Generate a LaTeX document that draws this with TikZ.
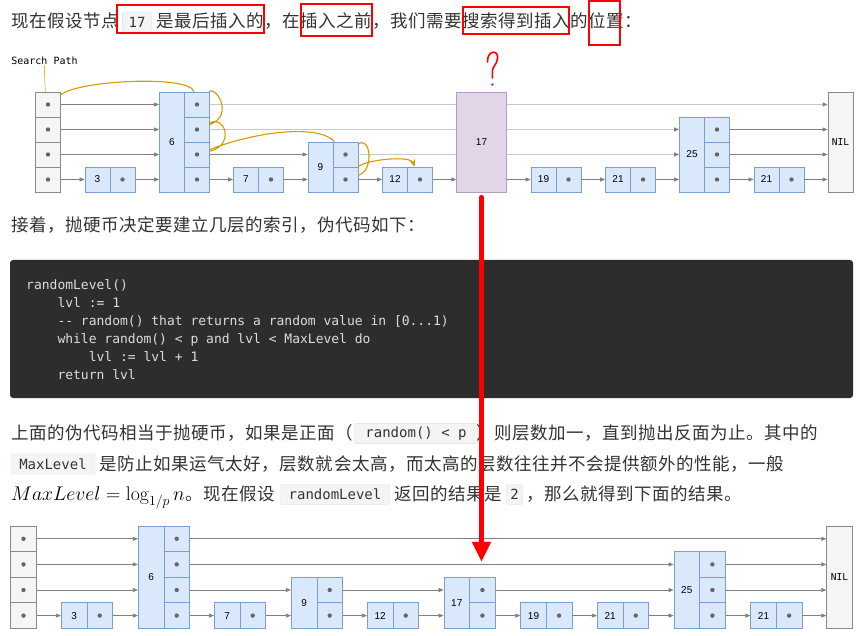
\RequirePackage{fix-cm}
\documentclass[tikz,border=0pt]{standalone}
\usepackage{fontspec}
\setsansfont{Liberation Sans}
\setmonofont{DejaVu Sans Mono}
\newfontfamily\cjk[LetterSpace=3]{Noto Sans CJK SC}
\usetikzlibrary{arrows.meta}
\definecolor{txtgray}{HTML}{333333}
\definecolor{cellblue}{HTML}{DAE8FC}
\definecolor{edgeblue}{HTML}{7C9DD0}
\definecolor{headfill}{HTML}{F5F5F5}
\definecolor{headedge}{HTML}{8A8A8A}
\definecolor{cellpurple}{HTML}{E1D5E7}
\definecolor{edgepurple}{HTML}{B59CC4}
\definecolor{linkgray}{HTML}{808080}
\definecolor{passgray}{HTML}{C8C8C8}
\definecolor{dotgray}{HTML}{666666}
\definecolor{pathorange}{HTML}{D79B00}
\definecolor{codebg}{HTML}{2D2D2D}
\definecolor{codefg}{HTML}{DCDCDC}
\definecolor{inlinebg}{HTML}{F3F4F4}
\definecolor{inlineedge}{HTML}{DDDFE2}
\definecolor{markred}{HTML}{FF0000}

\begin{document}
\begin{tikzpicture}[x=1pt,y=-1pt,
  every node/.style={inner sep=0pt},
  cn/.style={font=\cjk\fontsize{17.5}{20}\selectfont,text=txtgray,anchor=base west},
  codeline/.style={font=\ttfamily\fontsize{13}{15}\selectfont,text=codefg,anchor=base west},
  inline/.style={draw=inlineedge,fill=inlinebg,rounded corners=2pt,minimum height=20pt,
    font=\ttfamily\fontsize{14}{16}\selectfont,text=txtgray},
  cell/.style={draw=edgeblue,fill=cellblue,line width=0.8pt,minimum width=25pt,minimum height=25pt,
    font=\sffamily\fontsize{10}{12}\selectfont},
  bcell/.style={cell,minimum width=25.6pt,minimum height=25.6pt},
  head/.style={cell,draw=headedge,fill=headfill},
  bhead/.style={bcell,draw=headedge,fill=headfill},
  nilbox/.style={font=\ttfamily\fontsize{9.5}{11}\selectfont},
  link/.style={draw=linkgray,line width=0.75pt,-{Triangle[length=5pt,width=4pt]}},
  passlink/.style={draw=passgray,line width=1.6pt,-{Triangle[length=5pt,width=4pt,color=linkgray]}},
  searchpath/.style={draw=pathorange,line width=1.1pt},
  redbox/.style={draw=markred,line width=2pt}]
\fill[white] (0,0) rectangle (867,636);
\useasboundingbox (0,0) rectangle (867,636);

% first line of text
\node[cn] (l1a) at (11,28) {现在假设节点};
\node[inline,minimum width=29.4pt] (c17) at (137,22) {17};
\node[cn] (l1b) at (156,28) {是最后插入的，在插入之前，我们需要搜索得到插入的位置：};
\draw[redbox] (117.3,5) rectangle (264.3,33.3);
\draw[redbox] (300.7,4.3) rectangle (371.7,36);
\draw[redbox] (462.7,7.3) rectangle (569,34);
\draw[redbox] (588.7,0.7) rectangle (620,45);

% upper skip list
\node[head] (th1) at (48,104.5) {};
\node[head] (th2) at (48,129.5) {};
\node[head] (th3) at (48,154.5) {};
\node[head] (th4) at (48,179.5) {};
\node[cell] (t3) at (97.5,179.5) {3};
\node[cell] (t3p) at (122.5,179.5) {};
\node[cell,minimum height=100pt] (t6) at (172,142) {6};
\node[cell] (t6a) at (197,104.5) {};
\node[cell] (t6b) at (197,129.5) {};
\node[cell] (t6c) at (197,154.5) {};
\node[cell] (t6d) at (197,179.5) {};
\node[cell] (t7) at (246,179.5) {7};
\node[cell] (t7p) at (271,179.5) {};
\node[cell,minimum height=50pt] (t9) at (320.5,167) {9};
\node[cell] (t9c) at (345.5,154.5) {};
\node[cell] (t9d) at (345.5,179.5) {};
\node[cell] (t12) at (395,179.5) {12};
\node[cell] (t12p) at (420,179.5) {};
\node[cell] (t19) at (543.5,179.5) {19};
\node[cell] (t19p) at (568.5,179.5) {};
\node[cell] (t21) at (618,179.5) {21};
\node[cell] (t21p) at (643,179.5) {};
\node[cell,minimum height=75pt] (t25) at (692,154.5) {25};
\node[cell] (t25b) at (717,129.5) {};
\node[cell] (t25c) at (717,154.5) {};
\node[cell] (t25d) at (717,179.5) {};
\node[cell] (t21x) at (766.5,179.5) {21};
\node[cell] (t21xp) at (791.5,179.5) {};
\node[head,nilbox,minimum height=100pt] (tnil) at (840.5,142) {NIL};
\draw[passlink] (t6a) -- (t6a -| tnil.west);
\draw[passlink] (t6b) -- (t6b -| t25.west);
\draw[passlink] (t9c) -- (t9c -| t25.west);
\node[cell,draw=edgepurple,fill=cellpurple,minimum width=49.5pt,minimum height=100pt] (t17) at (481.5,142) {17};
\draw[link] (th1) -- (th1 -| t6.west);
\draw[link] (th2) -- (th2 -| t6.west);
\draw[link] (th3) -- (th3 -| t6.west);
\draw[link] (th4) -- (t3.west);
\draw[link] (t3p) -- (t6d -| t6.west);
\draw[link] (t6c) -- (t6c -| t9.west);
\draw[link] (t6d) -- (t7.west);
\draw[link] (t7p) -- (t7p -| t9.west);
\draw[link] (t9d) -- (t12.west);
\draw[link] (t12p) -- (t12p -| t17.west);
\draw[link] (t17.east |- t19) -- (t19.west);
\draw[link] (t19p) -- (t21.west);
\draw[link] (t21p) -- (t21p -| t25.west);
\draw[link] (t25b) -- (t25b -| tnil.west);
\draw[link] (t25c) -- (t25c -| tnil.west);
\draw[link] (t25d) -- (t21x.west);
\draw[link] (t21xp) -- (t21xp -| tnil.west);
\fill[dotgray] (th1) circle (2.2) (th2) circle (2.2) (th3) circle (2.2) (th4) circle (2.2)
  (t3p) circle (2.2) (t6a) circle (2.2) (t6b) circle (2.2) (t6c) circle (2.2) (t6d) circle (2.2)
  (t7p) circle (2.2) (t9c) circle (2.2) (t9d) circle (2.2) (t12p) circle (2.2) (t19p) circle (2.2)
  (t21p) circle (2.2) (t25b) circle (2.2) (t25c) circle (2.2) (t25d) circle (2.2) (t21xp) circle (2.2);

% search path
\node[font=\ttfamily\fontsize{10}{12}\selectfont] (splabel) at (44.5,61) {Search Path};
\draw[pathorange!70,line width=0.7pt] (splabel.south) .. controls (44,80) and (46,95) .. (th1);
\draw[searchpath,-{Stealth[length=7pt,width=6pt]}] (th1) .. controls (80,80) and (190,75) .. (t6a)
  .. controls (215,85) and (235,115) .. (t6b)
  .. controls (225,115) and (235,145) .. (t6c)
  .. controls (260,130) and (320,125) .. (t9c)
  .. controls (370,135) and (375,170) .. (t9d)
  .. controls (365,160) and (410,155) .. (t12p);
\draw[markred,line width=1.6pt,line cap=round] (487.5,62) .. controls (487,50) and (499,49) .. (497.5,59)
  .. controls (496.5,65) and (492,67) .. (492.3,72) -- (492.3,78);
\fill[markred] (492.3,84.5) circle (1.3);

% second line and code
\node[cn] (l2) at (11,231.8) {接着，抛硬币决定要建立几层的索引，伪代码如下：};
\fill[codebg,rounded corners=3pt] (10,260) rectangle (853,398);
\node[codeline] (k1) at (26,289.5) {randomLevel()};
\node[codeline] (k2) at (57.3,307.5) {lvl := 1};
\node[codeline] (k3) at (57.3,325.5) {-{}- random() that returns a random value in [0...1)};
\node[codeline] (k4) at (57.3,343.5) {while random() < p and lvl < MaxLevel do};
\node[codeline] (k5) at (88.6,361.5) {lvl := lvl + 1};
\node[codeline] (k6) at (57.3,379.5) {return lvl};

% paragraph
\node[cn] (pa1) at (11,439.5) {上面的伪代码相当于抛硬币，如果是正面（};
\node[inline,minimum width=124pt] (crand) at (416,433.3) {random() < p};
\node[cn] (pa2) at (476,439.5) {）则层数加一，直到抛出反面为止。其中的};
\node[inline,minimum width=84pt] (cmax) at (53,464) {MaxLevel};
\node[cn] (pb) at (99.5,470.5) {是防止如果运气太好，层数就会太高，而太高的层数往往并不会提供额外的性能，一般};
\node[anchor=base west,font=\fontsize{19.8}{23}\selectfont] (pmath) at (11,500.5) {$MaxLevel = \log_{1/p} n$};
\node[cn] (pc1) at (pmath.base east) {。现在假设};
\node[inline,minimum width=110pt] (clev) at (335,494.5) {randomLevel};
\node[cn] (pc2) at (394,500.5) {返回的结果是};
\node[inline,minimum width=17pt] (ctwo) at (514.5,494.5) {2};
\node[cn] (pc3) at (526,500.5) {，那么就得到下面的结果。};

% lower skip list
\node[bhead] (bh1) at (23.5,538.8) {};
\node[bhead] (bh2) at (23.5,564.4) {};
\node[bhead] (bh3) at (23.5,590) {};
\node[bhead] (bh4) at (23.5,615.6) {};
\node[bcell] (b3) at (74.1,615.6) {3};
\node[bcell] (b3p) at (99.7,615.6) {};
\node[bcell,minimum height=102.4pt] (b6) at (151.1,577.2) {6};
\node[bcell] (b6a) at (176.7,538.8) {};
\node[bcell] (b6b) at (176.7,564.4) {};
\node[bcell] (b6c) at (176.7,590) {};
\node[bcell] (b6d) at (176.7,615.6) {};
\node[bcell] (b7) at (227.1,615.6) {7};
\node[bcell] (b7p) at (252.7,615.6) {};
\node[bcell,minimum height=51.2pt] (b9) at (304.1,602.8) {9};
\node[bcell] (b9c) at (329.7,590) {};
\node[bcell] (b9d) at (329.7,615.6) {};
\node[bcell] (b12) at (380.1,615.6) {12};
\node[bcell] (b12p) at (405.7,615.6) {};
\node[bcell,minimum height=51.2pt] (b17) at (456.8,602.8) {17};
\node[bcell] (b17c) at (482.4,590) {};
\node[bcell] (b17d) at (482.4,615.6) {};
\node[bcell] (b19) at (533.5,615.6) {19};
\node[bcell] (b19p) at (559.1,615.6) {};
\node[bcell] (b21) at (610.1,615.6) {21};
\node[bcell] (b21p) at (635.7,615.6) {};
\node[bcell,minimum height=76.8pt] (b25) at (686.8,590) {25};
\node[bcell] (b25b) at (712.4,564.4) {};
\node[bcell] (b25c) at (712.4,590) {};
\node[bcell] (b25d) at (712.4,615.6) {};
\node[bcell] (b21x) at (763.5,615.6) {21};
\node[bcell] (b21xp) at (789.1,615.6) {};
\node[bhead,nilbox,minimum height=102.4pt] (bnil) at (839.5,577.2) {NIL};
\draw[link] (bh1) -- (bh1 -| b6.west);
\draw[link] (bh2) -- (bh2 -| b6.west);
\draw[link] (bh3) -- (bh3 -| b6.west);
\draw[link] (bh4) -- (b3.west);
\draw[link] (b3p) -- (b3p -| b6.west);
\draw[link] (b6a) -- (b6a -| bnil.west);
\draw[link] (b6b) -- (b6b -| b25.west);
\draw[link] (b6c) -- (b6c -| b9.west);
\draw[link] (b6d) -- (b7.west);
\draw[link] (b7p) -- (b7p -| b9.west);
\draw[link] (b9c) -- (b9c -| b17.west);
\draw[link] (b9d) -- (b12.west);
\draw[link] (b12p) -- (b12p -| b17.west);
\draw[link] (b17c) -- (b17c -| b25.west);
\draw[link] (b17d) -- (b19.west);
\draw[link] (b19p) -- (b21.west);
\draw[link] (b21p) -- (b21p -| b25.west);
\draw[link] (b25b) -- (b25b -| bnil.west);
\draw[link] (b25c) -- (b25c -| bnil.west);
\draw[link] (b25d) -- (b21x.west);
\draw[link] (b21xp) -- (b21xp -| bnil.west);
\fill[dotgray] (bh1) circle (2.2) (bh2) circle (2.2) (bh3) circle (2.2) (bh4) circle (2.2)
  (b3p) circle (2.2) (b6a) circle (2.2) (b6b) circle (2.2) (b6c) circle (2.2) (b6d) circle (2.2)
  (b7p) circle (2.2) (b9c) circle (2.2) (b9d) circle (2.2) (b12p) circle (2.2) (b17c) circle (2.2)
  (b17d) circle (2.2) (b19p) circle (2.2) (b21p) circle (2.2) (b25b) circle (2.2) (b25c) circle (2.2)
  (b25d) circle (2.2) (b21xp) circle (2.2);

% red arrow
\draw[markred,line width=5pt,line cap=round,-{Triangle[length=20pt,width=18pt]}]
  ([yshift=-5pt]t17.south) -- ([yshift=15pt]t17.south |- b17c.north);
\end{tikzpicture}
\end{document}
